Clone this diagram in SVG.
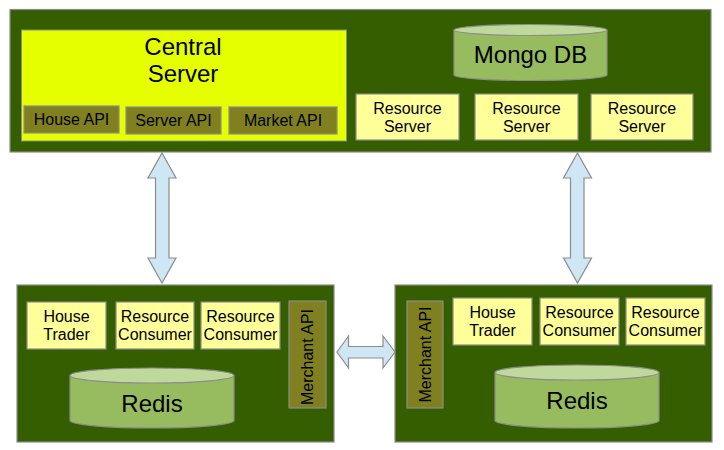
<svg xmlns="http://www.w3.org/2000/svg" width="724" height="450" viewBox="0 0 724 450">
<style>
.cont{fill:#355e00;stroke:#8c8c8c;stroke-width:1.2}
.core{fill:#e6ff00;stroke:#8c8c8c;stroke-width:1}
.api{fill:#808020;stroke:#8c8c8c;stroke-width:1.2}
.box{fill:#ffff99;stroke:#8c8c8c;stroke-width:1.2}
.cyl{fill:#97bb5f;stroke:#8c8c8c;stroke-width:1.2}
.cyltop{fill:#bfd99c;stroke:#8c8c8c;stroke-width:1.2}
.arrow{fill:#cfe6f5;stroke:#8c8c8c;stroke-width:1.2;stroke-linejoin:miter}
text{font-family:"Liberation Sans",Arial,sans-serif;fill:#000;text-anchor:middle}
.t16{font-size:16px}
.t24{font-size:24px}
</style>
<g id="top-container">
<rect class="cont" x="10" y="9.5" width="701" height="142.5"/>
</g>
<g id="central-server">
<rect class="core" x="21.5" y="30" width="325" height="111"/>
<text class="t24" x="183" y="55">Central</text>
<text class="t24" x="183" y="82">Server</text>
</g>
<g id="house-api">
<rect class="api" x="24" y="106" width="95" height="27"/>
<text class="t16" x="71.5" y="124.5">House API</text>
</g>
<g id="server-api">
<rect class="api" x="126" y="107" width="95" height="27"/>
<text class="t16" x="173.5" y="126">Server API</text>
</g>
<g id="market-api">
<rect class="api" x="229" y="107" width="108" height="27"/>
<text class="t16" x="283" y="126">Market API</text>
</g>
<g id="mongo-db">
<path class="cyl" d="M454 30 V75 A76.5 5.5 0 0 0 607 75 V30"/>
<ellipse class="cyltop" cx="530.5" cy="30" rx="76.5" ry="5.5"/>
<text class="t24" x="530.5" y="63">Mongo DB</text>
</g>
<g id="resource-server-1">
<rect class="box" x="356" y="94" width="103" height="46"/>
<text class="t16" x="407.5" y="114">Resource</text>
<text class="t16" x="407.5" y="132">Server</text>
</g>
<g id="resource-server-2">
<rect class="box" x="475" y="94" width="103" height="46"/>
<text class="t16" x="526.5" y="114">Resource</text>
<text class="t16" x="526.5" y="132">Server</text>
</g>
<g id="resource-server-3">
<rect class="box" x="591" y="94" width="102" height="46"/>
<text class="t16" x="642" y="114">Resource</text>
<text class="t16" x="642" y="132">Server</text>
</g>
<g id="left-container">
<rect class="cont" x="17" y="285" width="317" height="157"/>
</g>
<g id="left-house-trader">
<rect class="box" x="27" y="302" width="79" height="47"/>
<text class="t16" x="66.5" y="322">House</text>
<text class="t16" x="66.5" y="339.5">Trader</text>
</g>
<g id="left-resource-consumer-1">
<rect class="box" x="116" y="302" width="78" height="47"/>
<text class="t16" x="155" y="322">Resource</text>
<text class="t16" x="155" y="339.5">Consumer</text>
</g>
<g id="left-resource-consumer-2">
<rect class="box" x="201" y="302" width="79" height="47"/>
<text class="t16" x="240.5" y="322">Resource</text>
<text class="t16" x="240.5" y="339.5">Consumer</text>
</g>
<g id="left-merchant-api">
<rect class="api" x="289" y="301" width="37" height="107"/>
<text class="t16" transform="translate(313 357) rotate(-90)" x="0" y="0">Merchant API</text>
</g>
<g id="left-redis">
<path class="cyl" d="M70 375.5 V420.5 A82 7.5 0 0 0 234 420.5 V375.5"/>
<ellipse class="cyltop" cx="152" cy="375.5" rx="82" ry="7.5"/>
<text class="t24" x="152" y="412">Redis</text>
</g>
<g id="right-container">
<rect class="cont" x="395" y="285" width="317" height="157"/>
</g>
<g id="right-merchant-api">
<rect class="api" x="407" y="301" width="36" height="107"/>
<text class="t16" transform="translate(431 354.5) rotate(-90)" x="0" y="0">Merchant API</text>
</g>
<g id="right-house-trader">
<rect class="box" x="453" y="298" width="79" height="47"/>
<text class="t16" x="492.5" y="317.5">House</text>
<text class="t16" x="492.5" y="336">Trader</text>
</g>
<g id="right-resource-consumer-1">
<rect class="box" x="540" y="298" width="79" height="47"/>
<text class="t16" x="579.5" y="317.5">Resource</text>
<text class="t16" x="579.5" y="336">Consumer</text>
</g>
<g id="right-resource-consumer-2">
<rect class="box" x="626" y="298" width="79" height="47"/>
<text class="t16" x="665.5" y="317.5">Resource</text>
<text class="t16" x="665.5" y="336">Consumer</text>
</g>
<g id="right-redis">
<path class="cyl" d="M495 372.5 V420.5 A82 7.5 0 0 0 659 420.5 V372.5"/>
<ellipse class="cyltop" cx="577" cy="372.5" rx="82" ry="7.5"/>
<text class="t24" x="577" y="408.5">Redis</text>
</g>
<g id="connectors">
<path class="arrow" d="M162 153 L176 178 L169 178 L169 258 L176 258 L162 283 L148 258 L155.5 258 L155.5 178 L148 178 Z"/>
<path class="arrow" d="M577.5 153 L591.5 178 L584 178 L584 258 L591.5 258 L577.5 283 L563.5 258 L570.5 258 L570.5 178 L563.5 178 Z"/>
<path class="arrow" d="M337 352 L348.5 336 L348.5 346.5 L383 346.5 L383 336 L395 352 L383 368 L383 358 L348.5 358 L348.5 368 Z"/>
</g>
</svg>
